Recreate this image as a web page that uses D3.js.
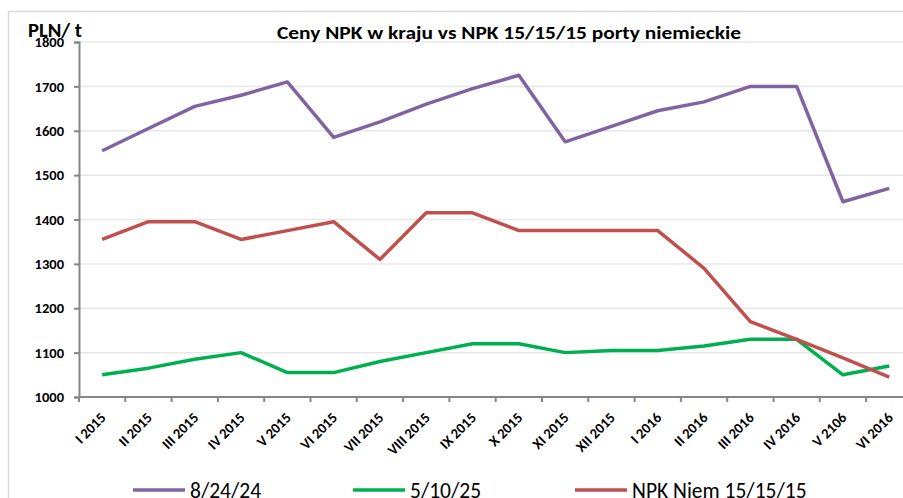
<!DOCTYPE html>
<html>
<head>
<meta charset="utf-8">
<script src="https://cdn.jsdelivr.net/npm/d3@7"></script>
<style>
  body { margin: 0; background: #fff; }
  svg { display: block; }
</style>
</head>
<body>
<svg id="chart"></svg>
<script>
const width = 903;
const height = 498;

const months = ["I 2015", "II 2015", "III 2015", "IV 2015", "V 2015", "VI 2015", "VII 2015", "VIII 2015",
    "IX 2015", "X 2015", "XI 2015", "XII 2015", "I 2016", "II 2016", "III 2016", "IV 2016", "V 2106", "VI 2016"];
const npk82424 = [1555, 1605, 1655, 1680, 1710, 1585, 1620, 1660, 1695, 1725, 1575, 1610, 1645, 1665, 1700, 1700, 1440, 1470];
const npk51025 = [1050, 1065, 1085, 1100, 1055, 1055, 1080, 1100, 1120, 1120, 1100, 1105, 1105, 1115, 1130, 1130, 1050, 1070];
const npkNiem = [1355, 1395, 1395, 1355, 1375, 1395, 1310, 1415, 1415, 1375, 1375, 1375, 1375, 1290, 1170, 1130, 1088, 1045];
const yTicks = [1000, 1100, 1200, 1300, 1400, 1500, 1600, 1700, 1800];

const series = [
    { name: "8/24/24", values: npk82424, color: "#8064a2" },
    { name: "5/10/25", values: npk51025, color: "#00b050" },
    { name: "NPK Niem 15/15/15", values: npkNiem, color: "#c0504d" }
];

const margin = { left: 79, top: 42, bottom: 101 };
const bandW = 46.3;

const svg = d3.select("#chart")
    .attr("width", width)
    .attr("height", height);

const x = d3.scaleBand()
    .domain(months)
    .range([margin.left, margin.left + bandW * months.length]);

const y = d3.scaleLinear()
    .domain([1000, 1800])
    .range([height - margin.bottom, margin.top]);

const font = "Carlito, 'Liberation Sans', 'Open Sans', sans-serif";

// outer frame
svg.append("rect")
    .attr("x", 8.5).attr("y", 11.5)
    .attr("width", width).attr("height", height)
    .attr("fill", "none")
    .attr("stroke", "#d9d9d9")
    .attr("stroke-width", 1.5);

// gridlines
svg.append("g")
    .selectAll("line")
    .data(yTicks.slice(1))
    .enter().append("line")
    .attr("x1", margin.left).attr("x2", width)
    .attr("y1", d => y(d)).attr("y2", d => y(d))
    .attr("stroke", "#e8e8e8")
    .attr("stroke-width", 1.5);

// y axis
const yAxis = svg.append("g")
    .attr("transform", `translate(${margin.left},0)`)
    .call(d3.axisLeft(y).tickValues(yTicks).tickSize(5).tickFormat(d3.format("d")));
yAxis.select(".domain").attr("stroke", "#868686").attr("stroke-width", 2);
yAxis.selectAll(".tick line").attr("stroke", "#868686").attr("stroke-width", 2);
yAxis.selectAll(".tick text")
    .attr("x", -15)
    .attr("font-family", font)
    .attr("font-weight", "bold")
    .attr("font-size", 14.5)
    .attr("fill", "#000");

// x axis with ticks at band edges
const xAxis = svg.append("g")
    .attr("transform", `translate(0,${y(1000)})`);
xAxis.append("line")
    .attr("x1", margin.left).attr("x2", width)
    .attr("stroke", "#868686").attr("stroke-width", 2);
xAxis.selectAll(".edge")
    .data(months)
    .enter().append("line")
    .attr("class", "edge")
    .attr("x1", d => x(d)).attr("x2", d => x(d))
    .attr("y1", 0).attr("y2", 5)
    .attr("stroke", "#868686").attr("stroke-width", 2);
xAxis.selectAll(".lbl")
    .data(months)
    .enter().append("text")
    .attr("class", "lbl")
    .attr("transform", d => `translate(${x(d) + x.bandwidth() / 2 + 1},${18}) rotate(-45)`)
    .attr("text-anchor", "end")
    .attr("dy", "0.35em")
    .attr("font-family", font)
    .attr("font-weight", "bold")
    .attr("font-size", 14.5)
    .text(d => d);

// lines
const line = d3.line()
    .x((d, i) => x(months[i]) + x.bandwidth() / 2)
    .y(d => y(d));

svg.append("g")
    .selectAll("path")
    .data(series)
    .enter().append("path")
    .attr("d", d => line(d.values))
    .attr("fill", "none")
    .attr("stroke", d => d.color)
    .attr("stroke-width", 3.5)
    .attr("stroke-linejoin", "round");

// title
svg.append("text")
    .attr("x", 509).attr("y", 39)
    .attr("text-anchor", "middle")
    .attr("font-family", font)
    .attr("font-weight", "bold")
    .attr("font-size", 17)
    .attr("textLength", 464)
    .attr("lengthAdjust", "spacingAndGlyphs")
    .text("Ceny NPK w kraju vs NPK 15/15/15 porty niemieckie");

svg.append("text")
    .attr("x", 28).attr("y", 37)
    .attr("font-family", font)
    .attr("font-weight", "bold")
    .attr("font-size", 20)
    .attr("textLength", 54)
    .attr("lengthAdjust", "spacingAndGlyphs")
    .text("PLN/ t");

// legend
const legendX = [133, 353, 575];
const legend = svg.append("g")
    .selectAll("g")
    .data(series)
    .enter().append("g")
    .attr("transform", (d, i) => `translate(${legendX[i]},490)`);
legend.append("line")
    .attr("x1", 0).attr("x2", 52)
    .attr("stroke", d => d.color)
    .attr("stroke-width", 3.5);
legend.append("text")
    .attr("x", 57).attr("y", 0)
    .attr("dy", "0.35em")
    .attr("font-family", font)
    .attr("font-size", 21.5)
    .text(d => d.name);
</script>
</body>
</html>
